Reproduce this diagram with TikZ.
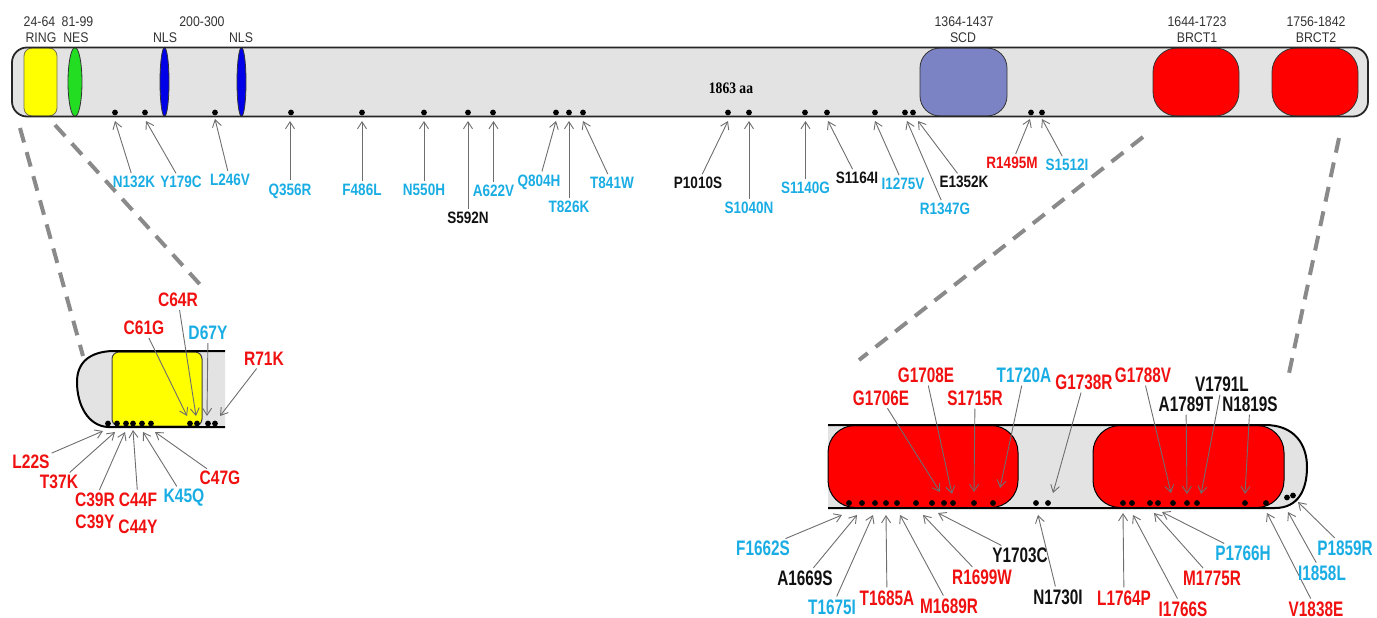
\documentclass[tikz,border=0pt]{standalone}
\usepackage{fontspec}
\setmainfont{Liberation Sans}
\newfontfamily\topfont{Liberation Sans}[FakeStretch=0.82]
\newfontfamily\blfont{Liberation Sans}[FakeStretch=0.8]
\newfontfamily\brfont{Liberation Sans}[FakeStretch=0.73]
\newfontfamily\domfont{Liberation Sans}[FakeStretch=0.88]
\newfontfamily\aafont{Liberation Serif}[FakeStretch=0.85]
\usetikzlibrary{arrows.meta}
\definecolor{cy}{HTML}{1AADE4}
\definecolor{rd}{HTML}{F01010}
\definecolor{bk}{HTML}{111111}
\definecolor{barfill}{HTML}{E3E3E3}
\definecolor{arrgray}{HTML}{6E6E6E}
\definecolor{dashgray}{HTML}{8A8A8A}
\definecolor{scdc}{HTML}{7B83C5}
\definecolor{nesgreen}{HTML}{22DD22}
\definecolor{nlsblue}{HTML}{0000E8}
\definecolor{ringy}{HTML}{FFFF00}
\definecolor{brct}{HTML}{FF0000}
\tikzset{
  arr/.style={draw=arrgray, line width=0.9, shorten <=2, -{Straight Barb[length=7,width=9]}},
  dz/.style={draw=dashgray, line width=4, dash pattern=on 15 off 10},
  barline/.style={draw=black!85, line width=1.8},
  panelline/.style={draw=black, line width=2},
  dom/.style={draw=black!80, line width=0.8},
  tl/.style={inner sep=1, font=\topfont\bfseries\fontsize{16.5}{18}\selectfont},
  bl/.style={inner sep=1, font=\blfont\bfseries\fontsize{19.5}{22}\selectfont},
  br/.style={inner sep=1, font=\brfont\bfseries\fontsize{21}{24}\selectfont},
  dl/.style={inner sep=0, text=black!80, font=\domfont\fontsize{14}{16}\selectfont}
}
% style, name, colour, label x, label y, text, tip x, tip y
\newcommand\mlab[8]{%
  \node[#1,text=#3] (#2) at (#4,#5) {#6};
  \coordinate (#2-t) at (#7,#8);
  \draw[arr] (#2) -- (#2-t);}
\newcommand\mk[2]{\fill[black] (#1,#2) circle[radius=2.9];}
\begin{document}
\begin{tikzpicture}[x=1pt,y=-1pt]
\useasboundingbox (0,0) rectangle (1377,618);

% zoom indicator lines
\coordinate (zA1) at (20,128);  \coordinate (zA2) at (83,356);
\coordinate (zB1) at (55,125);  \coordinate (zB2) at (205,290);
\coordinate (zC1) at (1143,137); \coordinate (zC2) at (859,360);
\coordinate (zD1) at (1339,138); \coordinate (zD2) at (1288,378);
\draw[dz] (zA1) -- (zA2);
\draw[dz] (zB1) -- (zB2);
\draw[dz] (zC1) -- (zC2);
\draw[dz] (zD1) -- (zD2);

% ===== top bar =====
\fill[barfill, rounded corners=15] (12,47.5) rectangle (1368,116.5);
\draw[dom, fill=ringy, draw=black!60!yellow, rounded corners=8] (24,48) rectangle (57,116);
\draw[dom, fill=nesgreen] (75,82) ellipse[x radius=7, y radius=34.5];
\draw[dom, fill=nlsblue] (164.5,82) ellipse[x radius=4.5, y radius=34.5];
\draw[dom, fill=nlsblue] (241.5,82) ellipse[x radius=4.5, y radius=34.5];
\draw[dom, fill=scdc, rounded corners=20] (920,48) rectangle (1007,116);
\draw[dom, fill=brct, rounded corners=24] (1153,48) rectangle (1239,116);
\draw[dom, fill=brct, rounded corners=24] (1272,48) rectangle (1358,116);
\draw[barline, rounded corners=15] (12,47.5) rectangle (1368,116.5);

\node[dl] (d1) at (39.5,21.5) {24-64};
\node[dl] (d2) at (41,37.5) {RING};
\node[dl] (d3) at (77.5,21.5) {81-99};
\node[dl] (d4) at (76,37.5) {NES};
\node[dl] (d5) at (202,22) {200-300};
\node[dl] (d6) at (165,37.5) {NLS};
\node[dl] (d7) at (241,37.5) {NLS};
\node[dl] (d8) at (964,22) {1364-1437};
\node[dl] (d9) at (963,37.5) {SCD};
\node[dl] (d10) at (1197,22) {1644-1723};
\node[dl] (d11) at (1197,37.5) {BRCT1};
\node[dl] (d12) at (1316,22) {1756-1842};
\node[dl] (d13) at (1316,37.5) {BRCT2};
\node[inner sep=0, font=\aafont\bfseries\fontsize{16}{18}\selectfont] (aa) at (731,88) {1863 aa};

\foreach \x in {115,145,215,291,362,424,468,493,556,569,583,728,749,805,827,875,905,913,1031,1042} {\mk{\x}{112.5}}

\mlab{tl}{N132K}{cy}{134}{182}{N132K}{115}{121}
\mlab{tl}{Y179C}{cy}{181}{182}{Y179C}{146}{121}
\mlab{tl}{L246V}{cy}{230}{180}{L246V}{215}{119}
\mlab{tl}{Q356R}{cy}{290}{191}{Q356R}{290}{121}
\mlab{tl}{F486L}{cy}{362}{190}{F486L}{362}{121}
\mlab{tl}{N550H}{cy}{424}{190}{N550H}{424}{121}
\mlab{tl}{S592N}{bk}{468}{218}{S592N}{468}{121}
\mlab{tl}{A622V}{cy}{493.5}{191}{A622V}{493.5}{121}
\mlab{tl}{Q804H}{cy}{539}{182}{Q804H}{556}{121}
\mlab{tl}{T826K}{cy}{569}{207}{T826K}{569}{121}
\mlab{tl}{T841W}{cy}{612}{183}{T841W}{583}{121}
\mlab{tl}{P1010S}{bk}{698}{183}{P1010S}{728}{121}
\mlab{tl}{S1040N}{cy}{749}{208}{S1040N}{749}{121}
\mlab{tl}{S1140G}{cy}{805.5}{188}{S1140G}{805.5}{121}
\mlab{tl}{S1164I}{bk}{857}{178}{S1164I}{828}{121}
\mlab{tl}{I1275V}{cy}{903}{184}{I1275V}{875}{121}
\mlab{tl}{R1347G}{cy}{945}{209}{R1347G}{907}{121}
\mlab{tl}{E1352K}{bk}{964}{182}{E1352K}{918}{121}
\mlab{tl}{R1495M}{rd}{1012}{163}{R1495M}{1030}{119}
\mlab{tl}{S1512I}{cy}{1067}{165}{S1512I}{1042}{119}

% ===== bottom-left panel (RING) =====
\fill[barfill] (112,351) .. controls (90,352) and (77,362) .. (77,382) .. controls (77,405) and (88,426) .. (108,427) -- (225,427) -- (225,351) -- cycle;
\draw[fill=ringy, draw=black!75, line width=1, rounded corners=7] (112,352) rectangle (202,426);
\draw[panelline] (225,351) -- (112,351) .. controls (90,352) and (77,362) .. (77,382) .. controls (77,405) and (88,426) .. (108,427) -- (225,427);
\foreach \x in {108,117,126,133,142,151,190,197,208,215} {\mk{\x}{423.5}}

\mlab{bl}{C64R}{rd}{178}{300}{C64R}{196}{416}
\mlab{bl}{C61G}{rd}{144}{328}{C61G}{187}{416}
\mlab{bl}{D67Y}{cy}{208}{333}{D67Y}{207}{416}
\mlab{bl}{R71K}{rd}{264}{359}{R71K}{220}{416}
\mlab{bl}{L22S}{rd}{31}{462}{L22S}{103}{431}
\mlab{bl}{T37K}{rd}{59}{482}{T37K}{115}{432}
\mlab{bl}{C39R}{rd}{95}{500}{C39R}{125}{432}
\node[bl,text=rd] (C39Y) at (95,522) {C39Y};
\mlab{bl}{C44F}{rd}{138}{500}{C44F}{133}{430}
\node[bl,text=rd] (C44Y) at (138,527) {C44Y};
\mlab{bl}{K45Q}{cy}{184}{498}{K45Q}{143}{432}
\mlab{bl}{C47G}{rd}{220}{478}{C47G}{155}{432}

% ===== bottom-right panel (BRCT) =====
\fill[barfill] (828,425) -- (1265,425) .. controls (1295,425) and (1307,445) .. (1307,467) .. controls (1307,490) and (1298,508) .. (1275,508) -- (828,508) -- cycle;
\draw[fill=brct, draw=black, line width=1, rounded corners=27] (828,425.5) rectangle (1018,507.5);
\draw[fill=brct, draw=black, line width=1, rounded corners=27] (1093,425.5) rectangle (1284,507.5);
\draw[panelline] (828,425) -- (1265,425) .. controls (1295,425) and (1307,445) .. (1307,467) .. controls (1307,490) and (1298,508) .. (1275,508) -- (828,508);
\foreach \x in {849,862,875,886,897,916,932,944,953,974,993,1036,1048,1123,1132,1150,1158,1173,1187,1197,1245,1266} {\mk{\x}{503}}
\mk{1287}{497.5}
\mk{1293}{495.5}

\mlab{br}{G1706E}{rd}{881}{398}{G1706E}{940}{492}
\mlab{br}{G1708E}{rd}{926}{375}{G1708E}{952}{494}
\mlab{br}{S1715R}{rd}{975}{398}{S1715R}{974}{492}
\mlab{br}{T1720A}{cy}{1024}{375}{T1720A}{1000}{488}
\mlab{br}{G1738R}{rd}{1084}{382}{G1738R}{1053}{493}
\mlab{br}{G1788V}{rd}{1143}{375}{G1788V}{1171}{493}
\mlab{br}{A1789T}{bk}{1186}{404}{A1789T}{1187}{494}
\mlab{br}{V1791L}{bk}{1222}{384}{V1791L}{1201}{494}
\mlab{br}{N1819S}{bk}{1250}{404}{N1819S}{1245}{494}

\mlab{br}{F1662S}{cy}{763}{548}{F1662S}{842}{515}
\mlab{br}{A1669S}{bk}{805}{578}{A1669S}{857}{515}
\mlab{br}{T1675I}{cy}{832}{607}{T1675I}{873}{515}
\mlab{br}{T1685A}{rd}{887}{598}{T1685A}{886}{515}
\mlab{br}{M1689R}{rd}{949}{606}{M1689R}{900}{515}
\mlab{br}{R1699W}{rd}{982}{577}{R1699W}{923}{515}
\mlab{br}{Y1703C}{bk}{1020}{555}{Y1703C}{938}{513}
\mlab{br}{N1730I}{bk}{1058}{597}{N1730I}{1038}{515}
\mlab{br}{L1764P}{rd}{1124}{598}{L1764P}{1123}{513}
\mlab{br}{I1766S}{rd}{1183}{609}{I1766S}{1133}{515}
\mlab{br}{M1775R}{rd}{1212}{578}{M1775R}{1154}{513}
\mlab{br}{P1766H}{cy}{1243}{553}{P1766H}{1162}{512}
\mlab{br}{V1838E}{rd}{1316}{609}{V1838E}{1267}{513}
\mlab{br}{I1858L}{cy}{1322}{573}{I1858L}{1288}{512}
\mlab{br}{P1859R}{cy}{1345}{548}{P1859R}{1298}{502}
\end{tikzpicture}
\end{document}
